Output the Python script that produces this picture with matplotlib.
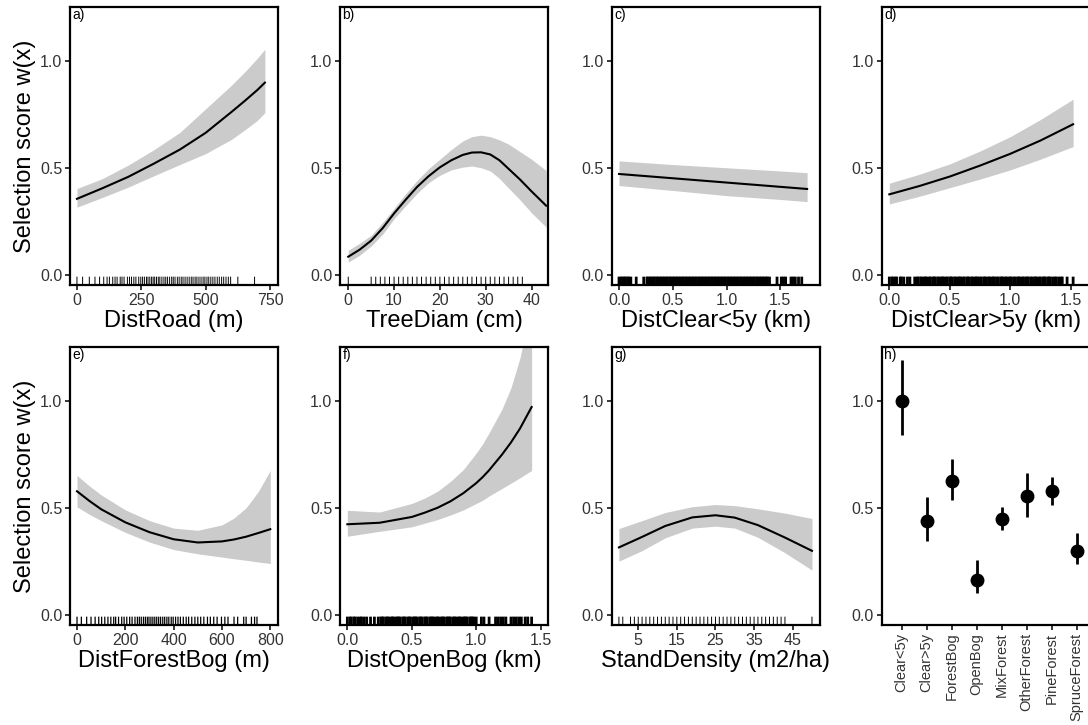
import matplotlib
matplotlib.use("Agg")
import matplotlib.pyplot as plt

plt.rcParams['font.family'] = ['Liberation Sans', 'DejaVu Sans']

# ---- data ----
road_x = [0, 100, 200, 300, 400, 500, 600, 650, 700, 730]
road_y = [0.355, 0.405, 0.458, 0.52, 0.585, 0.663, 0.76, 0.81, 0.862, 0.897]
road_hi = [0.403, 0.45, 0.513, 0.585, 0.665, 0.775, 0.885, 0.945, 1.01, 1.053]
road_lo = [0.316, 0.362, 0.41, 0.463, 0.515, 0.566, 0.632, 0.675, 0.72, 0.757]
road_rug = [0, 22, 48, 70, 88, 104, 117, 126, 139, 148, 156, 168, 175, 183, 196, 204,
            212, 221, 229, 240, 248, 255, 262, 270, 276, 283, 290, 296, 302, 309, 316,
            322, 330, 338, 345, 352, 360, 368, 374, 381, 390, 397, 405, 412, 420, 428,
            436, 444, 451, 459, 466, 474, 482, 490, 497, 505, 512, 520, 528, 536, 545,
            553, 562, 570, 579, 588, 597, 625, 690]

tree_x = [0, 2.5, 5, 7.5, 10, 12.5, 15, 17.5, 20, 22.5, 25, 27, 29, 31, 33, 35, 37.5,
          40, 43.2]
tree_y = [0.085, 0.118, 0.16, 0.218, 0.287, 0.35, 0.41, 0.46, 0.502, 0.535, 0.56,
          0.571, 0.572, 0.562, 0.535, 0.495, 0.445, 0.39, 0.323]
tree_hi = [0.115, 0.148, 0.185, 0.245, 0.31, 0.378, 0.44, 0.495, 0.54, 0.585, 0.625,
           0.645, 0.652, 0.645, 0.63, 0.61, 0.575, 0.54, 0.487]
tree_lo = [0.06, 0.092, 0.135, 0.19, 0.262, 0.322, 0.38, 0.43, 0.465, 0.49, 0.503,
           0.508, 0.5, 0.485, 0.45, 0.405, 0.35, 0.29, 0.223]
tree_rug = [0, 5, 6, 7, 8, 9, 10, 11, 12, 13, 14, 15, 16, 17, 18, 19, 20, 21, 22, 23,
            24, 25, 26, 27, 28, 29, 30, 31, 32, 33, 34, 35, 36, 37, 38]

clear5_x = [0, 0.5, 1.0, 1.5, 1.75]
clear5_y = [0.471, 0.451, 0.431, 0.411, 0.401]
clear5_hi = [0.532, 0.515, 0.5, 0.485, 0.477]
clear5_lo = [0.417, 0.394, 0.37, 0.352, 0.342]
clear5_rug = [0.00, 0.02, 0.03, 0.05, 0.06, 0.08, 0.09, 0.11, 0.16, 0.23,
              0.26, 0.27, 0.29, 0.30, 0.32, 0.33, 0.35, 0.36, 0.38, 0.39, 0.41, 0.42,
              0.44, 0.45, 0.47, 0.48, 0.50, 0.51, 0.53, 0.54, 0.56, 0.57, 0.59, 0.60,
              0.62, 0.63, 0.65, 0.66, 0.68, 0.69, 0.71, 0.72, 0.74, 0.75, 0.77, 0.78,
              0.80, 0.81, 0.83, 0.84, 0.86, 0.87, 0.89, 0.90, 0.92, 0.93, 0.95, 0.96,
              0.98, 0.99, 1.01, 1.02, 1.04, 1.05, 1.07, 1.08, 1.10, 1.11, 1.13, 1.14,
              1.16, 1.17, 1.19, 1.20, 1.22, 1.23, 1.25, 1.26, 1.28, 1.29, 1.31, 1.32,
              1.34, 1.35, 1.37, 1.38, 1.40, 1.47, 1.51, 1.53, 1.55, 1.60, 1.62, 1.64,
              1.67, 1.70]

clear5p_x = [0, 0.25, 0.5, 0.75, 1.0, 1.25, 1.52]
clear5p_y = [0.376, 0.415, 0.459, 0.51, 0.565, 0.627, 0.703]
clear5p_hi = [0.428, 0.47, 0.518, 0.578, 0.645, 0.725, 0.82]
clear5p_lo = [0.331, 0.367, 0.407, 0.447, 0.49, 0.54, 0.599]
clear5p_rug = [0.00, 0.02, 0.03, 0.05, 0.06, 0.09, 0.10, 0.12, 0.15, 0.17, 0.21, 0.23,
               0.24, 0.26, 0.27, 0.29, 0.30, 0.31, 0.33, 0.34, 0.36, 0.37, 0.38, 0.40,
               0.41, 0.43, 0.44, 0.45, 0.47, 0.48, 0.50, 0.51, 0.52, 0.54, 0.55, 0.57,
               0.58, 0.59, 0.61, 0.62, 0.64, 0.65, 0.66, 0.68, 0.69, 0.71, 0.72, 0.73,
               0.75, 0.76, 0.78, 0.79, 0.80, 0.82, 0.83, 0.85, 0.86, 0.87, 0.89, 0.90,
               0.92, 0.93, 0.94, 0.96, 0.97, 0.99, 1.00, 1.01, 1.03, 1.04, 1.06, 1.07,
               1.08, 1.10, 1.11, 1.13, 1.14, 1.15, 1.17, 1.18, 1.20, 1.21, 1.22, 1.24,
               1.25, 1.27, 1.28, 1.29, 1.31, 1.32, 1.33, 1.35, 1.37, 1.38, 1.40, 1.42,
               1.43, 1.47, 1.52]

fbog_x = [0, 50, 100, 200, 300, 400, 500, 600, 650, 700, 750, 800]
fbog_y = [0.577, 0.533, 0.493, 0.432, 0.386, 0.353, 0.338, 0.343, 0.352, 0.365,
          0.382, 0.40]
fbog_hi = [0.651, 0.603, 0.56, 0.49, 0.44, 0.405, 0.395, 0.42, 0.452, 0.5, 0.575,
           0.674]
fbog_lo = [0.504, 0.47, 0.44, 0.385, 0.34, 0.305, 0.285, 0.27, 0.262, 0.255, 0.247,
           0.24]
fbog_rug = [0, 18, 40, 58, 75, 90, 102, 115, 128, 140, 152, 160, 172, 185, 195, 206,
            218, 228, 240, 250, 258, 266, 275, 283, 291, 298, 306, 314, 322, 330, 338,
            346, 355, 363, 372, 380, 390, 398, 408, 418, 428, 440, 452, 462, 475, 488,
            500, 512, 525, 540, 552, 566, 580, 598, 612, 625, 650, 665, 690, 700, 722,
            735, 745]

obog_x = [0, 0.25, 0.5, 0.6, 0.7, 0.8, 0.9, 1.0, 1.05, 1.1, 1.2, 1.27, 1.34, 1.43]
obog_y = [0.423, 0.43, 0.457, 0.477, 0.5, 0.53, 0.568, 0.615, 0.643, 0.675, 0.748,
          0.805, 0.87, 0.97]
obog_hi = [0.488, 0.48, 0.52, 0.545, 0.577, 0.623, 0.678, 0.755, 0.798, 0.85, 0.96,
           1.06, 1.2, 1.45]
obog_lo = [0.367, 0.39, 0.411, 0.428, 0.445, 0.466, 0.49, 0.52, 0.535, 0.555, 0.59,
           0.615, 0.64, 0.674]
obog_rug = [0.00, 0.02, 0.03, 0.05, 0.06, 0.08, 0.10, 0.11, 0.13, 0.15, 0.18, 0.21, 0.24,
            0.26, 0.27, 0.28, 0.30, 0.31, 0.32, 0.34, 0.35, 0.36, 0.38, 0.39, 0.40,
            0.41, 0.43, 0.44, 0.45, 0.47, 0.48, 0.49, 0.51, 0.52, 0.53, 0.54, 0.56,
            0.57, 0.58, 0.60, 0.61, 0.62, 0.64, 0.65, 0.66, 0.67, 0.69, 0.70, 0.71,
            0.73, 0.74, 0.75, 0.77, 0.78, 0.79, 0.80, 0.82, 0.83, 0.84, 0.86, 0.87,
            0.88, 0.90, 0.91, 0.92, 0.93, 0.95, 0.96, 0.97, 0.98, 1.00, 1.04, 1.06,
            1.10, 1.15, 1.17, 1.19, 1.21, 1.23, 1.27, 1.29, 1.31, 1.33, 1.35, 1.38,
            1.40, 1.43]

stand_x = [0, 6, 12, 19, 25, 30, 36, 43, 50]
stand_y = [0.315, 0.364, 0.415, 0.455, 0.465, 0.454, 0.419, 0.361, 0.299]
stand_hi = [0.403, 0.44, 0.478, 0.505, 0.515, 0.51, 0.495, 0.475, 0.45]
stand_lo = [0.251, 0.3, 0.36, 0.405, 0.414, 0.405, 0.362, 0.29, 0.209]
stand_rug = [0, 1, 3, 4, 5, 6, 7, 8, 9, 10, 11, 12, 13, 14, 15, 16, 17, 18, 19, 20, 21,
             22, 23, 24, 25, 26, 27, 28, 29, 30, 31, 32, 33, 34, 35, 36, 37, 38, 39, 40,
             41, 42, 43, 50]

habitat = ['Clear<5y', 'Clear>5y', 'ForestBog', 'OpenBog', 'MixForest',
           'OtherForest', 'PineForest', 'SpruceForest']
habitat_y = [1.0, 0.436, 0.626, 0.163, 0.447, 0.553, 0.577, 0.299]
habitat_hi = [1.189, 0.55, 0.729, 0.256, 0.504, 0.664, 0.643, 0.38]
habitat_lo = [0.84, 0.346, 0.538, 0.101, 0.395, 0.457, 0.515, 0.236]

BAND = '#cbcbcb'
TEXT = '#333333'
YLIM = (-0.047, 1.25)


def style_axis(ax, letter):
    for side in ax.spines.values():
        side.set_linewidth(1.6)
        side.set_color('black')
    ax.tick_params(direction='out', length=3.5, width=1.1, labelsize=11.5,
                   pad=2, labelcolor=TEXT, color='black')
    ax.set_ylim(*YLIM)
    ax.set_yticks([0.0, 0.5, 1.0])
    ax.set_yticklabels(['0.0', '0.5', '1.0'])
    ax.text(0.012, 0.995, letter, transform=ax.transAxes, ha='left', va='top',
            fontsize=10, color='black')


def plot_smooth(ax, x, y, lo, hi, rug, xlim, ticks, ticklabels, xlabel, letter,
                rug_lw=0.7):
    '''
    Fitted response curve with its confidence band and a rug of observed values
    '''
    ax.fill_between(x, lo, hi, color=BAND, lw=0, zorder=1)
    ax.plot(x, y, color='black', lw=1.5, zorder=2)
    ax.vlines(rug, 0, 0.03, transform=ax.get_xaxis_transform(),
              color='black', lw=rug_lw, zorder=3, snap=False)
    ax.set_xlim(*xlim)
    ax.set_xticks(ticks)
    ax.set_xticklabels(ticklabels)
    ax.set_xlabel(xlabel, fontsize=17, labelpad=2, color='black')
    style_axis(ax, letter)


def plot_habitat(ax):
    pos = list(range(1, len(habitat) + 1))
    ax.vlines(pos, habitat_lo, habitat_hi, color='black', lw=2.0, zorder=2)
    ax.plot(pos, habitat_y, 'o', color='black', ms=9, zorder=3)
    ax.set_xlim(0.2, 8.52)
    ax.set_xticks(pos)
    ax.set_xticklabels(habitat, rotation=90)
    style_axis(ax, 'h)')
    ax.tick_params(axis='x', labelsize=10.5)


fig = plt.figure(figsize=(10.88, 7.25), dpi=100)
W, H = 1088.0, 725.0
lefts = [70, 340, 611.7, 881.7]
tops = [7, 347]
pw, ph = 208, 278
axes = []
for r in range(2):
    row = []
    for c in range(4):
        ax = fig.add_axes([lefts[c] / W, 1 - (tops[r] + ph) / H, pw / W, ph / H])
        row.append(ax)
    axes.append(row)

plot_smooth(axes[0][0], road_x, road_y, road_lo, road_hi, road_rug, (-27, 781),
            [0, 250, 500, 750], ['0', '250', '500', '750'], 'DistRoad (m)', 'a)')
plot_smooth(axes[0][1], tree_x, tree_y, tree_lo, tree_hi, tree_rug, (-1.8, 43.6),
            [0, 10, 20, 30, 40], ['0', '10', '20', '30', '40'], 'TreeDiam (cm)', 'b)')
plot_smooth(axes[0][2], clear5_x, clear5_y, clear5_lo, clear5_hi, clear5_rug,
            (-0.068, 1.867), [0, 0.5, 1.0, 1.5], ['0.0', '0.5', '1.0', '1.5'],
            'DistClear<5y (km)', 'c)', rug_lw=2.0)
plot_smooth(axes[0][3], clear5p_x, clear5p_y, clear5p_lo, clear5p_hi, clear5p_rug,
            (-0.063, 1.657), [0, 0.5, 1.0, 1.5], ['0.0', '0.5', '1.0', '1.5'],
            'DistClear>5y (km)', 'd)', rug_lw=2.0)
plot_smooth(axes[1][0], fbog_x, fbog_y, fbog_lo, fbog_hi, fbog_rug, (-29, 832),
            [0, 200, 400, 600, 800], ['0', '200', '400', '600', '800'],
            'DistForestBog (m)', 'e)', rug_lw=0.9)
plot_smooth(axes[1][1], obog_x, obog_y, obog_lo, obog_hi, obog_rug, (-0.057, 1.557),
            [0, 0.5, 1.0, 1.5], ['0.0', '0.5', '1.0', '1.5'], 'DistOpenBog (km)', 'f)',
            rug_lw=2.0)
plot_smooth(axes[1][2], stand_x, stand_y, stand_lo, stand_hi, stand_rug, (-1.87, 52),
            [5, 15, 25, 35, 45], ['5', '15', '25', '35', '45'],
            'StandDensity (m2/ha)', 'g)')
plot_habitat(axes[1][3])

for r in range(2):
    axes[r][0].set_ylabel('Selection score w(x)', fontsize=17, labelpad=3, color='black')

fig.savefig('out.png', dpi=100)
